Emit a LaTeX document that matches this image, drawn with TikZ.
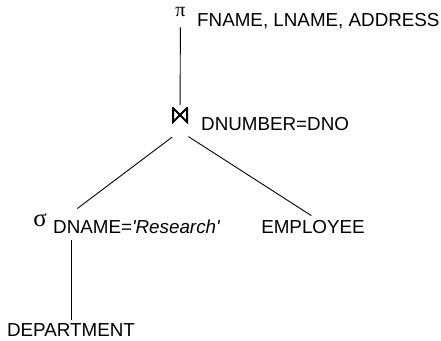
\documentclass[tikz,border=0pt]{standalone}
\usepackage{fontspec}
\setmainfont{Liberation Sans}
\newfontfamily\greekfont{Liberation Serif}
\usetikzlibrary{positioning}

\begin{document}
\begin{tikzpicture}[
  x=1pt,y=-1pt,
  font=\fontsize{18.8}{22}\selectfont,
  opsym/.style={inner sep=0pt,font=\greekfont\fontsize{20}{22}\selectfont},
  cond/.style={inner sep=0pt,anchor=base west},
  relname/.style={inner sep=3pt,anchor=base},
  joinsym/.style={minimum width=16pt,minimum height=16pt,inner sep=0pt,
    path picture={
      \draw[line width=2pt]
        ([xshift=1pt,yshift=-1pt]path picture bounding box.north west)
        -- ([xshift=1pt,yshift=1pt]path picture bounding box.south west)
        -- ([xshift=-1pt,yshift=-1pt]path picture bounding box.north east)
        -- ([xshift=-1pt,yshift=1pt]path picture bounding box.south east)
        -- cycle;}},
  treeline/.style={line width=0.9pt}
]
  \useasboundingbox (0,0) rectangle (441,340);

  % projection at the root
  \node[opsym] (proj) at (180.5,12.5) {π};
  \node[cond] (projattr) at (197,26) {FNAME, LNAME, ADDRESS};

  % join
  \node[joinsym] (join) at (180,115) {};
  \node[cond] (joincond) at (201,130) {DNUMBER=DNO};
  \coordinate (fork) at ([yshift=-8pt]join.south);

  % selection and the two relations
  \node[opsym,font=\greekfont\fontsize{25}{28}\selectfont] (sel) at (40,220) {σ};
  \node[cond] (selcond) at (53,233)
    {DNAME=\textit{\textquotesingle Research\textquotesingle}};
  \node[relname] (emp) at (313,233) {EMPLOYEE};
  \node[relname] (dept) at (71,336) {DEPARTMENT};

  \draw[treeline,shorten <=10pt,shorten >=2pt] (proj) -- (join);
  \draw[treeline,shorten <=10pt,shorten >=8pt] (fork) -- (sel.north -| dept.north);
  \draw[treeline,shorten <=10pt,shorten >=2pt] (fork) -- (emp.north);
  \draw[treeline,shorten <=7pt] (selcond.south -| dept.north) -- (dept.north);
\end{tikzpicture}
\end{document}
